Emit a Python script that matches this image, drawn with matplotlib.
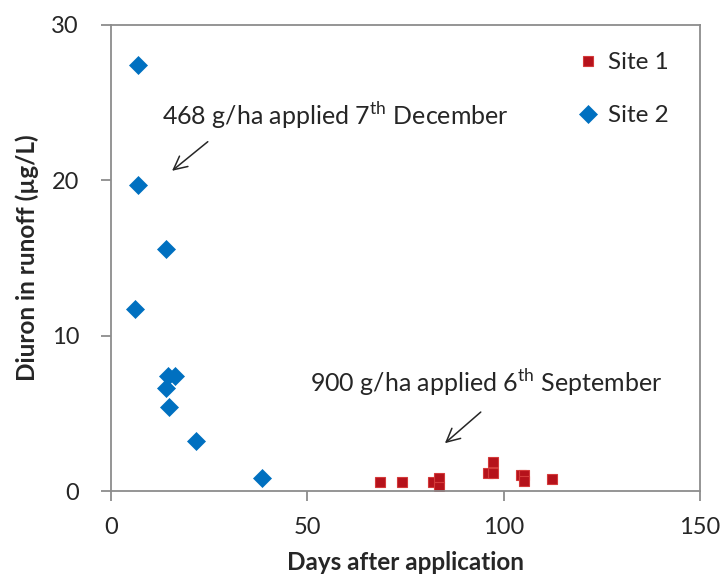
import matplotlib.pyplot as plt

plt.rcParams["font.family"] = ["Lato", "DejaVu Sans"]
plt.rcParams["mathtext.fontset"] = "custom"
plt.rcParams["mathtext.rm"] = "Lato"

# Site 1: 900 g/ha applied 6th September
site1_days = [68.4, 74.2, 82.0, 83.5, 83.5, 95.9, 97.2, 97.2, 104.4, 105.2, 105.2, 112.3]
site1_diuron = [0.56, 0.56, 0.56, 0.82, 0.24, 1.14, 1.14, 1.85, 1.03, 1.03, 0.65, 0.77]

# Site 2: 468 g/ha applied 7th December
site2_days = [6.9, 6.9, 13.9, 6.0, 14.5, 16.2, 13.9, 14.7, 21.7, 38.4]
site2_diuron = [27.4, 19.7, 15.6, 11.7, 7.4, 7.4, 6.6, 5.4, 3.2, 0.84]

fig = plt.figure(figsize=(7.24, 5.81), dpi=100)
ax = fig.add_axes([0.1533, 0.1549, 0.8136, 0.8021])

ax.plot(site1_days, site1_diuron, linestyle="none", marker="s", markersize=7.2,
        markerfacecolor="#B5121B", markeredgecolor="#D43A3A", markeredgewidth=0.8,
        label="Site 1")
ax.plot(site2_days, site2_diuron, linestyle="none", marker="D", markersize=8.7,
        markerfacecolor="#0070C0", markeredgecolor="#0070C0", markeredgewidth=0.5,
        label="Site 2")

ax.set_xlim(0, 150)
ax.set_ylim(0, 30)
ax.set_xticks([0, 50, 100, 150])
ax.set_yticks([0, 10, 20, 30])

for s in ax.spines.values():
    s.set_color("#8C8C8C")
    s.set_linewidth(1.3)
ax.tick_params(direction="out", length=7, width=1.3, color="#8C8C8C",
               labelsize=17, labelcolor="#262626")
ax.tick_params(axis="x", pad=12)
ax.tick_params(axis="y", pad=16)

ax.set_xlabel("Days after application", fontsize=17.5, fontweight="bold",
              color="#262626", labelpad=9)
ax.set_ylabel("Diuron in runoff (\u00b5g/L)", fontsize=17.5, fontweight="bold",
              color="#262626", labelpad=9)

ax.annotate("468 g/ha applied 7$^{\\rm th}$ December", xy=(15.0, 20.5),
            xytext=(13.0, 24.2), textcoords="data", fontsize=18,
            color="#262626", va="center", ha="left")
ax.annotate("", xy=(15.0, 20.5), xytext=(25.2, 22.6),
            arrowprops=dict(arrowstyle="->", color="#262626", lw=1.1,
                            mutation_scale=24))
ax.annotate("900 g/ha applied 6$^{\\rm th}$ September", xy=(84.5, 2.96),
            xytext=(50.7, 7.0), textcoords="data", fontsize=18,
            color="#262626", va="center", ha="left")
ax.annotate("", xy=(84.5, 2.96), xytext=(94.7, 5.2),
            arrowprops=dict(arrowstyle="->", color="#262626", lw=1.1,
                            mutation_scale=24))

leg = ax.legend(loc="upper right", bbox_to_anchor=(0.963, 0.962), borderaxespad=0,
                frameon=False, fontsize=17.5, handletextpad=0.3,
                labelspacing=1.3, handlelength=1.0)
for t in leg.get_texts():
    t.set_color("#262626")

fig.savefig("out.png", dpi=100)
